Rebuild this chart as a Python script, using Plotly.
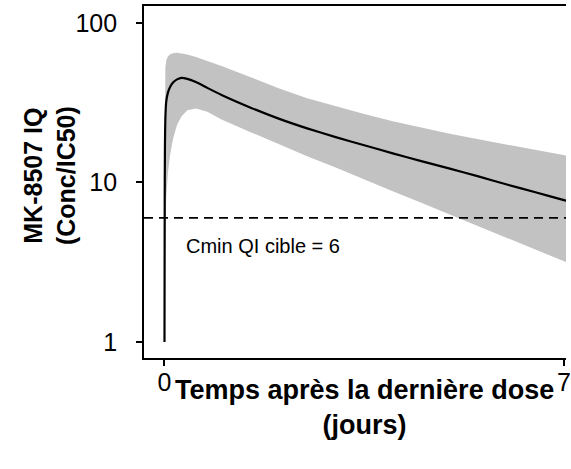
import math
import plotly.graph_objects as go

# ---- data ----
TIME = [0, 0.004, 0.008, 0.015, 0.03, 0.06, 0.1, 0.15, 0.22, 0.3, 0.4, 0.55, 0.75,
        1.0, 1.5, 2.0, 2.5, 3.0, 3.5, 4.0, 4.5, 5.0, 5.5, 6.0, 6.5, 7.0, 7.1]
MEDIAN = [1, 8, 17, 25, 32, 36.5, 39.8, 42.3, 44.2, 45.2, 44.5, 42.5, 39.1,
          35.3, 29.5, 25.1, 21.8, 19.2, 17.1, 15.2, 13.6, 12.2, 10.9, 9.7, 8.67, 7.74, 7.57]
UPPER = [1, 25, 42, 52, 58, 61.5, 63.5, 64.5, 64.9, 64.4, 63.2, 61.1, 57.8,
         53.6, 45.7, 38.9, 33.7, 29.9, 26.8, 24.2, 22.0, 20.2, 18.6, 17.2, 16.0, 14.8, 14.6]
LOWER = [1, 1.8, 2.8, 4.5, 8, 11.5, 15, 18.8, 23, 26, 28.3, 29.0, 27.7,
         24.8, 20.7, 17.3, 14.6, 12.4, 10.4, 8.8, 7.45, 6.3, 5.3, 4.49, 3.79, 3.2, 3.1]
CMIN_TARGET = 6
X_TICKS = [0, 7]
Y_TICKS = [1, 10, 100]
Y_TICK_LABELS = ["1", "10", "100"]
X_RANGE = [-0.359, 7.036]
Y_RANGE_LOG = [-0.1, 2.105]

FONT = "Liberation Sans, Arial, sans-serif"

fig = go.Figure()
fig.add_trace(go.Scatter(x=TIME, y=LOWER, mode="lines", line=dict(width=0),
                         hoverinfo="skip", showlegend=False))
fig.add_trace(go.Scatter(x=TIME, y=UPPER, mode="lines", line=dict(width=0),
                         fill="tonexty", fillcolor="rgb(194,194,194)",
                         hoverinfo="skip", showlegend=False))
fig.add_trace(go.Scatter(x=X_RANGE, y=[CMIN_TARGET, CMIN_TARGET], mode="lines",
                         line=dict(color="black", width=1.8, dash="9px,6px"),
                         showlegend=False))
fig.add_trace(go.Scatter(x=TIME, y=MEDIAN, mode="lines",
                         line=dict(color="black", width=2.2, shape="spline", smoothing=0.5),
                         showlegend=False))

fig.add_annotation(x=0.35, y=math.log10(4.0), xref="x", yref="y",
                   text=f"Cmin QI cible = {CMIN_TARGET}", showarrow=False,
                   xanchor="left", yanchor="middle",
                   font=dict(family=FONT, size=20, color="black"))

fig.add_annotation(x=0.522, y=-0.044, xref="paper", yref="paper",
                   text="<b>Temps après la dernière dose<br>(jours)</b>", showarrow=False,
                   xanchor="center", yanchor="top",
                   font=dict(family=FONT, size=27, color="black"))
fig.add_annotation(x=-0.225, y=0.517, xref="paper", yref="paper",
                   text="<b>MK-8507 IQ<br>(Conc/IC50)</b>", showarrow=False,
                   textangle=-90, xanchor="center", yanchor="middle",
                   font=dict(family=FONT, size=25, color="black"))

fig.update_layout(
    width=571, height=469,
    margin=dict(l=144, r=0, t=6, b=111, pad=0),
    paper_bgcolor="white", plot_bgcolor="white",
    font=dict(family=FONT, color="black"),
    xaxis=dict(range=X_RANGE, tickvals=X_TICKS, ticks="outside", ticklen=6,
               tickwidth=1.8, tickcolor="black", showline=True, linecolor="black",
               linewidth=1.8, mirror=True, showgrid=False, zeroline=False,
               ticklabelstandoff=-5, ticklabeloverflow="allow",
               tickfont=dict(family=FONT, size=25, color="black")),
    yaxis=dict(type="log", range=Y_RANGE_LOG, tickvals=Y_TICKS, ticktext=Y_TICK_LABELS,
               ticks="outside", ticklen=6, tickwidth=1.8, tickcolor="black",
               ticklabelstandoff=14,
               showline=True, linecolor="black", linewidth=1.8, showgrid=False,
               zeroline=False, tickfont=dict(family=FONT, size=25, color="black")),
)

fig.write_html("out.html", config={"displayModeBar": False},
               post_script="document.body.style.margin='0';document.body.style.overflow='hidden';")
